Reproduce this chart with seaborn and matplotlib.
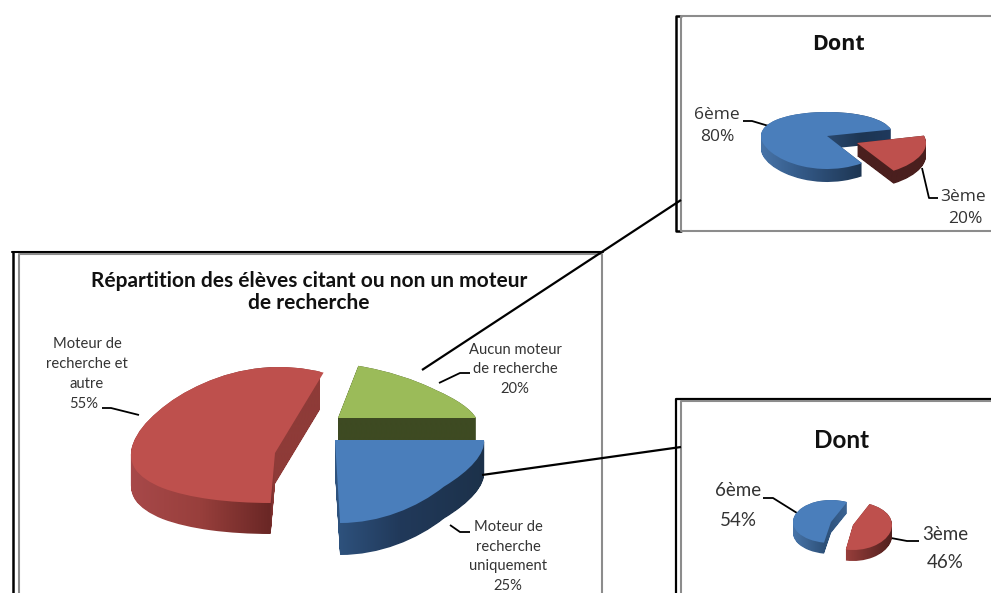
import numpy as np
import matplotlib
matplotlib.use("Agg")
import matplotlib.pyplot as plt
import seaborn as sns
from matplotlib.colors import LinearSegmentedColormap
from matplotlib.path import Path
from matplotlib.transforms import Affine2D, IdentityTransform

# valeurs
main_categories = ["Moteur de recherche uniquement", "Moteur de recherche et autre", "Aucun moteur de recherche"]
main_values = [25, 55, 20]
aucun_niveaux = ["6ème", "3ème"]
aucun_values = [80, 20]
moteur_niveaux = ["6ème", "3ème"]
moteur_values = [54, 46]

main_title = "Répartition des élèves citant ou non un moteur\nde recherche"
zoom_title = "Dont"

W, H = 991, 593
BLUE, RED, GREEN = "#4a7ebb", "#be504d", "#9bbb59"

sns.set_style("white")
plt.rcParams["font.family"] = ["Lato", "DejaVu Sans"]

fig = plt.figure(figsize=(W / 100, H / 100), dpi=100, facecolor="white")
bg = fig.add_axes([0, 0, 1, 1], zorder=0)


def persp_funcs(k):
    return (lambda y: y / (1 - k * y), lambda z: z / (1 + k * z))


def draw_slice(values, idx, startangle, colors, apex, rx, up, down, depth, side_stops, shear=0, z=1, ccw=True):
    """une part du camembert 3D : ax.pie pour le dessus, une image en degrade pour le flanc"""
    ax = fig.add_axes([(apex[0] - rx) / W, 1 - (apex[1] + down) / H, 2 * rx / W, (up + down) / H], zorder=z)
    ax.patch.set_alpha(0)
    wedges, _ = ax.pie(values, colors=colors, startangle=startangle, radius=1, counterclock=ccw)
    ax.set_aspect("auto")
    k = (up - down) / (up + down)
    ax.set_yscale("function", functions=persp_funcs(k))
    ax.set_xlim(-1, 1)
    ax.set_ylim(-1, 1)
    ax.set_axis_off()
    for i, w in enumerate(wedges):
        if i != idx:
            w.remove()
    w = wedges[idx]
    w.set_clip_on(False)
    w.set_linewidth(0)
    w.set_transform(Affine2D([[1, shear, 0], [0, 1, 0], [0, 0, 1]]) + ax.transData)

    top_path = w.get_transform().transform_path(w.get_path())
    layers = [top_path.transformed(Affine2D().translate(0, -d)) for d in np.arange(0, depth + 0.5, 1)]
    swept = Path.make_compound_path(*layers)

    x0, x1 = side_stops[0][0], side_stops[-1][0]
    cmap = LinearSegmentedColormap.from_list(
        "side", [((x - x0) / (x1 - x0), c) for x, c in side_stops], N=512)
    im = bg.imshow(np.linspace(0, 1, 512)[None, :], cmap=cmap, extent=(x0, x1, H, 0), aspect="auto", zorder=z)
    im.set_clip_path(swept, IdentityTransform())
    bg.set_xlim(0, W)
    bg.set_ylim(H, 0)


def leader(xs, ys, lw=1.3):
    bg.plot(xs, ys, color="black", lw=lw, solid_capstyle="butt", zorder=5)


def label(x, y, s, size, color="#333333", weight="normal", family=None):
    t = bg.text(x, y, s, ha="center", va="center", fontsize=size, color=color, fontweight=weight, zorder=6,
                linespacing=1.2)
    if family:
        t.set_family(family)
    return t


# grand camembert
main_colors = [BLUE, RED, GREEN]
draw_slice(main_values, 2, 0, main_colors, (338, 418), 138, 56, 30, 30,
           [(330, "#3e4a22"), (490, "#3e4a22")], shear=-0.17, z=1, ccw=False)
draw_slice(main_values, 0, 0, main_colors, (335, 440), 149, 30, 83, 32,
           [(333, "#2f5480"), (400, "#21395a"), (490, "#1c3149")], shear=-0.034, z=2, ccw=False)
draw_slice(main_values, 1, 0, main_colors, (275, 453), 144, 86, 50, 31,
           [(128, "#a8494a"), (200, "#983f3c"), (270, "#6a2725"), (274, "#8e3b38"), (320, "#8e3b38")],
           shear=0.03, z=3, ccw=False)

# zoom "aucun moteur"
zoom_colors = [BLUE, RED]
draw_slice(aucun_values, 0, 14, zoom_colors, (827, 136), 66, 24, 33, 13,
           [(755, "#4b78ad"), (800, "#345a88"), (862, "#1d3552"), (895, "#1f3a5f")], z=4)
draw_slice(aucun_values, 1, 14, zoom_colors, (857, 143), 69, 29, 33, 13,
           [(850, "#4a1f1e"), (930, "#4a1f1e")], z=5)

# zoom "moteur uniquement"
draw_slice(moteur_values, 0, 65, zoom_colors, (831, 522), 38, 22, 21, 11,
           [(790, "#4a78ae"), (825, "#2d5078"), (850, "#3d6697")], z=6)
draw_slice(moteur_values, 1, 65, zoom_colors, (853, 525), 39, 23, 25, 11,
           [(843, "#9c403d"), (895, "#4d1e1c")], z=7)

# cadres
bg.set_axis_off()
gray = "#8c8c8c"
bg.plot([13, 13], [593, 252], color="black", lw=1.8, zorder=1)
bg.plot([12, 603], [252, 252], color="black", lw=1.5, zorder=1)
bg.plot([19, 19, 602, 602], [593, 254, 254, 593], color=gray, lw=1.5, zorder=1)

bg.plot([681, 675.5, 675.5, 681], [15.5, 15.5, 231, 231], color="black", lw=1.8, zorder=1)
bg.plot([991, 681, 681, 991], [15.5, 15.5, 231, 231], color=gray, lw=1.5, zorder=1)

bg.plot([675.5, 675.5, 991], [593, 399, 399], color="black", lw=1.6, zorder=1)
bg.plot([681, 681, 991], [593, 401, 401], color=gray, lw=1.5, zorder=1)

# connecteurs
leader([422, 681], [370, 200], lw=1.6)
leader([482, 681], [475, 447], lw=1.6)

# textes
label(309, 292, main_title, 15, color="#111111", weight="bold").set_linespacing(1.12)
label(87, 344, "Moteur de", 10.6)
label(87, 364, "recherche et", 10.6)
label(87, 384, "autre", 10.6)
label(84, 404, f"{main_values[1]}%", 10.6)
label(515, 350, "Aucun moteur", 10.6)
label(515, 369, "de recherche", 10.6)
label(515, 389, f"{main_values[2]}%", 10.6)
label(508, 527, "Moteur de", 10.6)
label(508, 547, "recherche", 10.6)
label(508, 566, "uniquement", 10.6)
label(508, 586, f"{main_values[0]}%", 10.6)

label(838, 45, zoom_title, 15.5, color="#111111", weight="bold", family="Open Sans")
label(717, 115, aucun_niveaux[0], 12.5, family="Open Sans")
label(717, 137, f"{aucun_values[0]}%", 12.5, family="Open Sans")
label(963, 197, aucun_niveaux[1], 12.5, family="Open Sans")
label(965, 219, f"{aucun_values[1]}%", 12.5, family="Open Sans")

label(842, 441, zoom_title, 17.5, color="#111111", weight="bold")
label(738, 491, moteur_niveaux[0], 13.5)
label(738, 520, f"{moteur_values[0]}%", 13.5)
label(945, 534, moteur_niveaux[1], 13.5)
label(945, 562, f"{moteur_values[1]}%", 13.5)

# traits de rappel
leader([102, 111, 139], [408, 408, 415])
leader([470, 460, 439], [373, 373, 383])
leader([470, 460, 450], [532, 532, 525])
leader([743, 752, 772], [121, 121, 127])
leader([938, 929, 922], [198, 198, 168])
leader([763, 773, 797], [498, 498, 513])
leader([919, 907, 891], [541, 541, 538])

fig.savefig("out.png", dpi=100)
plt.close(fig)
